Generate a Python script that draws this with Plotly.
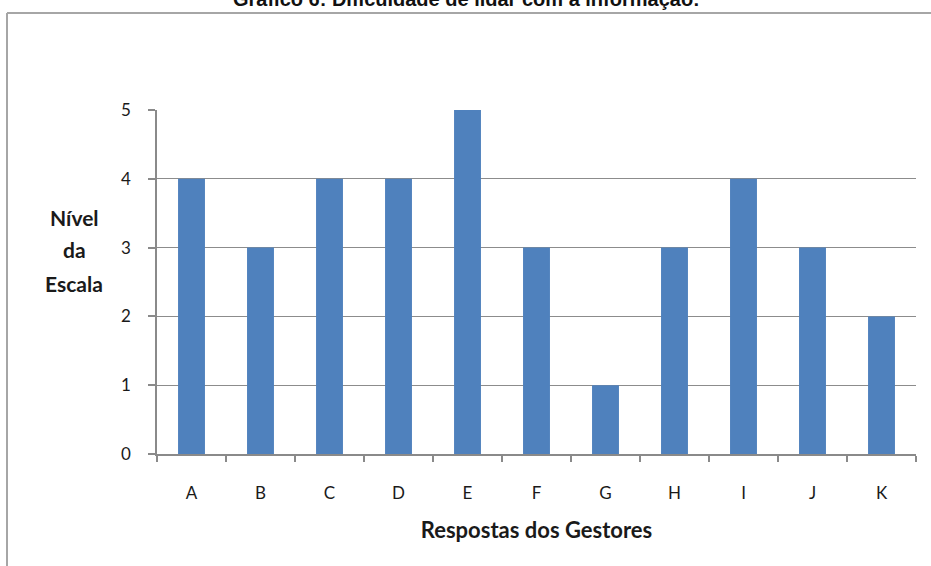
import plotly.graph_objects as go

categories = ["A", "B", "C", "D", "E", "F", "G", "H", "I", "J", "K"]
values = [4, 3, 4, 4, 5, 3, 1, 3, 4, 3, 2]
y_ticks = [0, 1, 2, 3, 4, 5]
y_title_lines = ["Nível", "da", "Escala"]

W, H = 931, 566
L, R, T, B = 157, 15, 110, 112
pw = W - L - R
ph = H - T - B

def px(x):
    return (x - L) / pw

def py(y):
    return (H - B - y) / ph

font_main = "Lato, 'Open Sans', sans-serif"
txt = "#1a1a1a"

fig = go.Figure()
fig.add_trace(go.Bar(x=categories, y=values, marker=dict(color="#4F81BD", line=dict(width=0)),
                     width=0.39))

annotations = []
for i, line in enumerate(y_title_lines):
    annotations.append(dict(text="<b>%s</b>" % line, xref="paper", yref="paper",
                            x=px(74), y=py(217 + 33 * i), xanchor="center", yanchor="middle",
                            showarrow=False, font=dict(family=font_main, size=21, color=txt)))
annotations.append(dict(text="<b>Gráfico 6: Dificuldade de lidar com a informação:</b>", xref="paper", yref="paper",
                        x=px(466), y=py(12), xanchor="center", yanchor="bottom", showarrow=False,
                        font=dict(family="Liberation Sans, Arial, sans-serif", size=20, color="#111111")))

fig.update_layout(
    width=W, height=H,
    margin=dict(l=L, r=R, t=T, b=B, autoexpand=False),
    paper_bgcolor="white", plot_bgcolor="white",
    showlegend=False,
    xaxis=dict(
        showline=True, linecolor="#8a8a8a", linewidth=1.5,
        ticks="outside", ticklen=6, tickcolor="#8a8a8a", tickwidth=1.5,
        tickson="boundaries",
        tickfont=dict(family=font_main, size=17, color=txt),
        ticklabelstandoff=23,
        showgrid=False,
        title=dict(text="<b>Respostas dos Gestores</b>", font=dict(family=font_main, size=22, color=txt), standoff=20),
    ),
    yaxis=dict(
        range=[0, 5], tickvals=y_ticks,
        showline=True, linecolor="#8a8a8a", linewidth=1.5,
        ticks="outside", ticklen=7, tickcolor="#8a8a8a", tickwidth=1.5,
        showgrid=True, gridcolor="#8c8c8c", gridwidth=1.2,
        zeroline=False,
        tickfont=dict(family=font_main, size=17, color=txt),
        ticklabelstandoff=14,
    ),
    shapes=[
        dict(type="line", xref="paper", yref="paper", x0=px(7), x1=px(940), y0=py(13), y1=py(13),
             line=dict(color="#a6a6a6", width=2)),
        dict(type="line", xref="paper", yref="paper", x0=px(7), x1=px(7), y0=py(13), y1=py(575),
             line=dict(color="#a6a6a6", width=2)),
    ],
    annotations=annotations,
)

fig.write_html("out.html", config={"displayModeBar": False},
               post_script="document.body.style.margin='0';document.body.style.overflow='hidden';")
